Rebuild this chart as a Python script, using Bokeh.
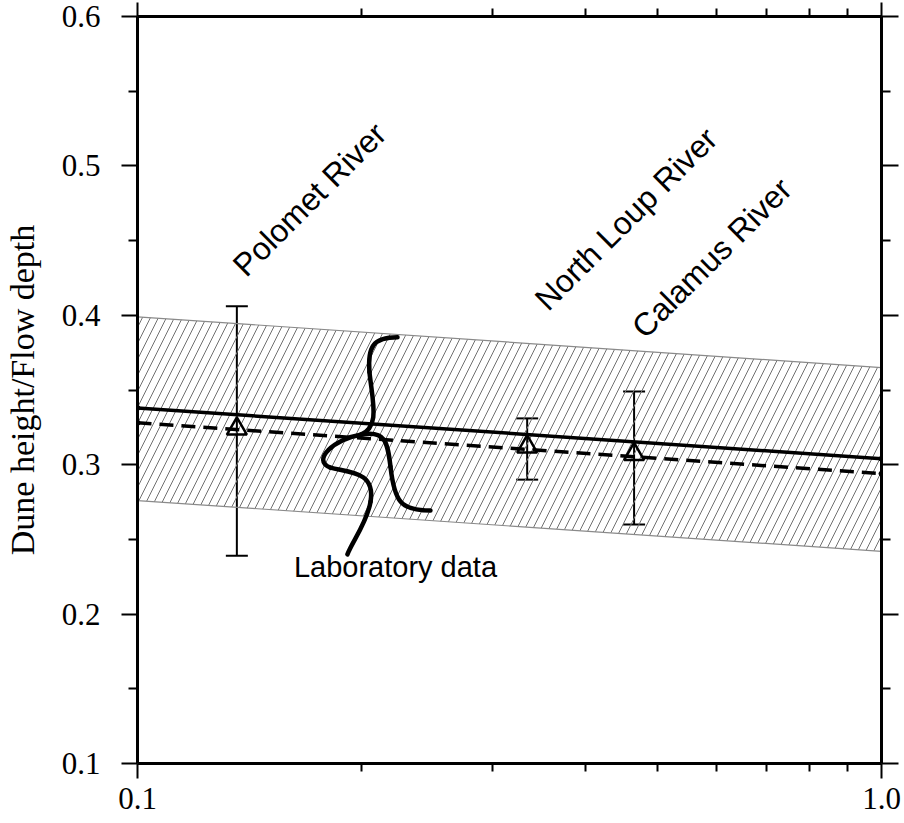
from bokeh.plotting import figure
from bokeh.models import (Range1d, FixedTicker, LogAxis, LinearAxis, PrintfTickFormatter,
                          Whisker, TeeHead, ColumnDataSource, Label)
from bokeh.embed import file_html
from bokeh.resources import INLINE

# ---------------- data ----------------
sites = ["Polomet River", "North Loup River", "Calamus River"]
site_x = [0.136, 0.334, 0.465]
site_mean = [0.324, 0.312, 0.307]
site_upper = [0.406, 0.331, 0.349]
site_lower = [0.239, 0.290, 0.260]
site_label_x = [0.1367, 0.348, 0.470]
site_label_y = [0.430, 0.4073, 0.3887]

fit_x = [0.1, 1.0]
fit_solid = [0.338, 0.304]
fit_dashed = [0.328, 0.294]
band_upper = [0.399, 0.365]
band_lower = [0.276, 0.242]

x_major = [0.1, 1.0]
x_minor = [0.2, 0.3, 0.4, 0.5, 0.6, 0.7, 0.8, 0.9]
y_major = [0.1, 0.2, 0.3, 0.4, 0.5, 0.6]
y_minor = [0.15, 0.25, 0.35, 0.45, 0.55]

# "Laboratory data" brace (cubic bezier segments, data units)
br_x0 = [0.2236, 0.2050, 0.1994, 0.2188, 0.1994, 0.1817, 0.2057]
br_y0 = [0.3853, 0.3620, 0.3200, 0.2987, 0.3200, 0.2980, 0.2753]
br_cx0 = [0.2070, 0.2070, 0.2154, 0.2215, 0.1845, 0.1933, 0.2038]
br_cy0 = [0.3853, 0.3420, 0.3233, 0.2753, 0.3173, 0.2947, 0.2620]
br_cx1 = [0.2038, 0.2121, 0.2168, 0.2257, 0.1708, 0.2089, 0.1945]
br_cy1 = [0.3787, 0.3253, 0.3153, 0.2693, 0.3033, 0.2953, 0.2487]
br_x1 = [0.2050, 0.1994, 0.2188, 0.2476, 0.1817, 0.2057, 0.1915]
br_y1 = [0.3620, 0.3200, 0.2987, 0.2693, 0.2980, 0.2753, 0.2400]
lab_text = "Laboratory data"
lab_x = 0.2222
lab_y = 0.2315

y_label = "Dune height/Flow depth"

# ---------------- figure ----------------
p = figure(x_axis_type="log", x_range=Range1d(0.1, 1.0), y_range=Range1d(0.1, 0.6),
           frame_width=744, frame_height=747,
           min_border_left=137, min_border_right=23, min_border_top=16, min_border_bottom=60,
           output_backend="svg", toolbar_location=None,
           background_fill_color="white", border_fill_color="white")
p.outline_line_color = None
p.grid.visible = False

xticker = FixedTicker(ticks=x_major, minor_ticks=x_minor)
yticker = FixedTicker(ticks=y_major, minor_ticks=y_minor)

SERIF = "Liberation Serif"
SANS = "Liberation Sans"


def style_axis(ax, major_out, minor_out, labels=True, standoff=10):
    ax.axis_line_width = 3
    ax.axis_line_color = "black"
    ax.major_tick_line_width = 2
    ax.minor_tick_line_width = 2
    ax.major_tick_line_color = "black"
    ax.minor_tick_line_color = "black"
    ax.major_tick_in = 0
    ax.minor_tick_in = 0
    ax.major_tick_out = major_out
    ax.minor_tick_out = minor_out
    ax.formatter = PrintfTickFormatter(format="%.1f")
    if labels:
        ax.major_label_text_font = SERIF
        ax.major_label_text_font_size = "31px"
        ax.major_label_text_color = "black"
        ax.major_label_standoff = standoff
    else:
        ax.major_label_text_font_size = "1px"
        ax.major_label_text_alpha = 0
        ax.major_label_standoff = 0


bx = p.xaxis[0]
bx.ticker = xticker
style_axis(bx, 15, 8, True, 9)

ly = p.yaxis[0]
ly.ticker = yticker
style_axis(ly, 16, 9, True, 21)
ly.axis_label = y_label
ly.axis_label_text_font = SERIF
ly.axis_label_text_font_size = "34px"
ly.axis_label_text_font_style = "normal"
ly.axis_label_text_color = "black"
ly.axis_label_standoff = 18

top = LogAxis(ticker=xticker)
style_axis(top, 14, 8, False)
p.add_layout(top, "above")

right = LinearAxis(ticker=yticker)
style_axis(right, 17, 9, False)
p.add_layout(right, "right")

# hatched band
p.varea(x=fit_x, y1=band_lower, y2=band_upper, fill_color=None, fill_alpha=0,
        hatch_pattern="/", hatch_color="#707070", hatch_weight=1.0, hatch_scale=16)
p.line(fit_x, band_upper, line_color="#8a8a8a", line_width=1.2)
p.line(fit_x, band_lower, line_color="#8a8a8a", line_width=1.2)

# fit lines
p.line(fit_x, fit_solid, line_color="black", line_width=3.5)
p.line(fit_x, fit_dashed, line_color="black", line_width=3.5, line_dash="14 8")
p.scatter(fit_x + fit_x, fit_solid + fit_dashed, marker="circle", size=5, color="black")

# error bars + points
src = ColumnDataSource(dict(x=site_x, m=site_mean, upper=site_upper, lower=site_lower))
wh = Whisker(base="x", upper="upper", lower="lower", source=src, dimension="height",
             line_width=2, line_color="black",
             upper_head=TeeHead(size=22, line_width=2, line_color="black"),
             lower_head=TeeHead(size=22, line_width=2, line_color="black"))
p.add_layout(wh)
p.scatter("x", "m", source=src, marker="triangle", size=20, fill_color=None,
          line_color="black", line_width=2.5)

# site labels
for name, lx, lyv in zip(sites, site_label_x, site_label_y):
    p.add_layout(Label(x=lx, y=lyv, text=name, angle=45, angle_units="deg",
                       text_font=SANS, text_font_size="32px", text_color="black",
                       text_align="left", text_baseline="alphabetic"))

# brace
p.bezier(x0=br_x0, y0=br_y0, x1=br_x1, y1=br_y1, cx0=br_cx0, cy0=br_cy0,
         cx1=br_cx1, cy1=br_cy1, line_color="black", line_width=4.5, line_cap="round")
p.add_layout(Label(x=lab_x, y=lab_y, text=lab_text, text_font=SANS,
                   text_font_size="29px", text_color="black", text_align="center",
                   text_baseline="alphabetic"))

open("out.html", "w").write(file_html(p, INLINE))
